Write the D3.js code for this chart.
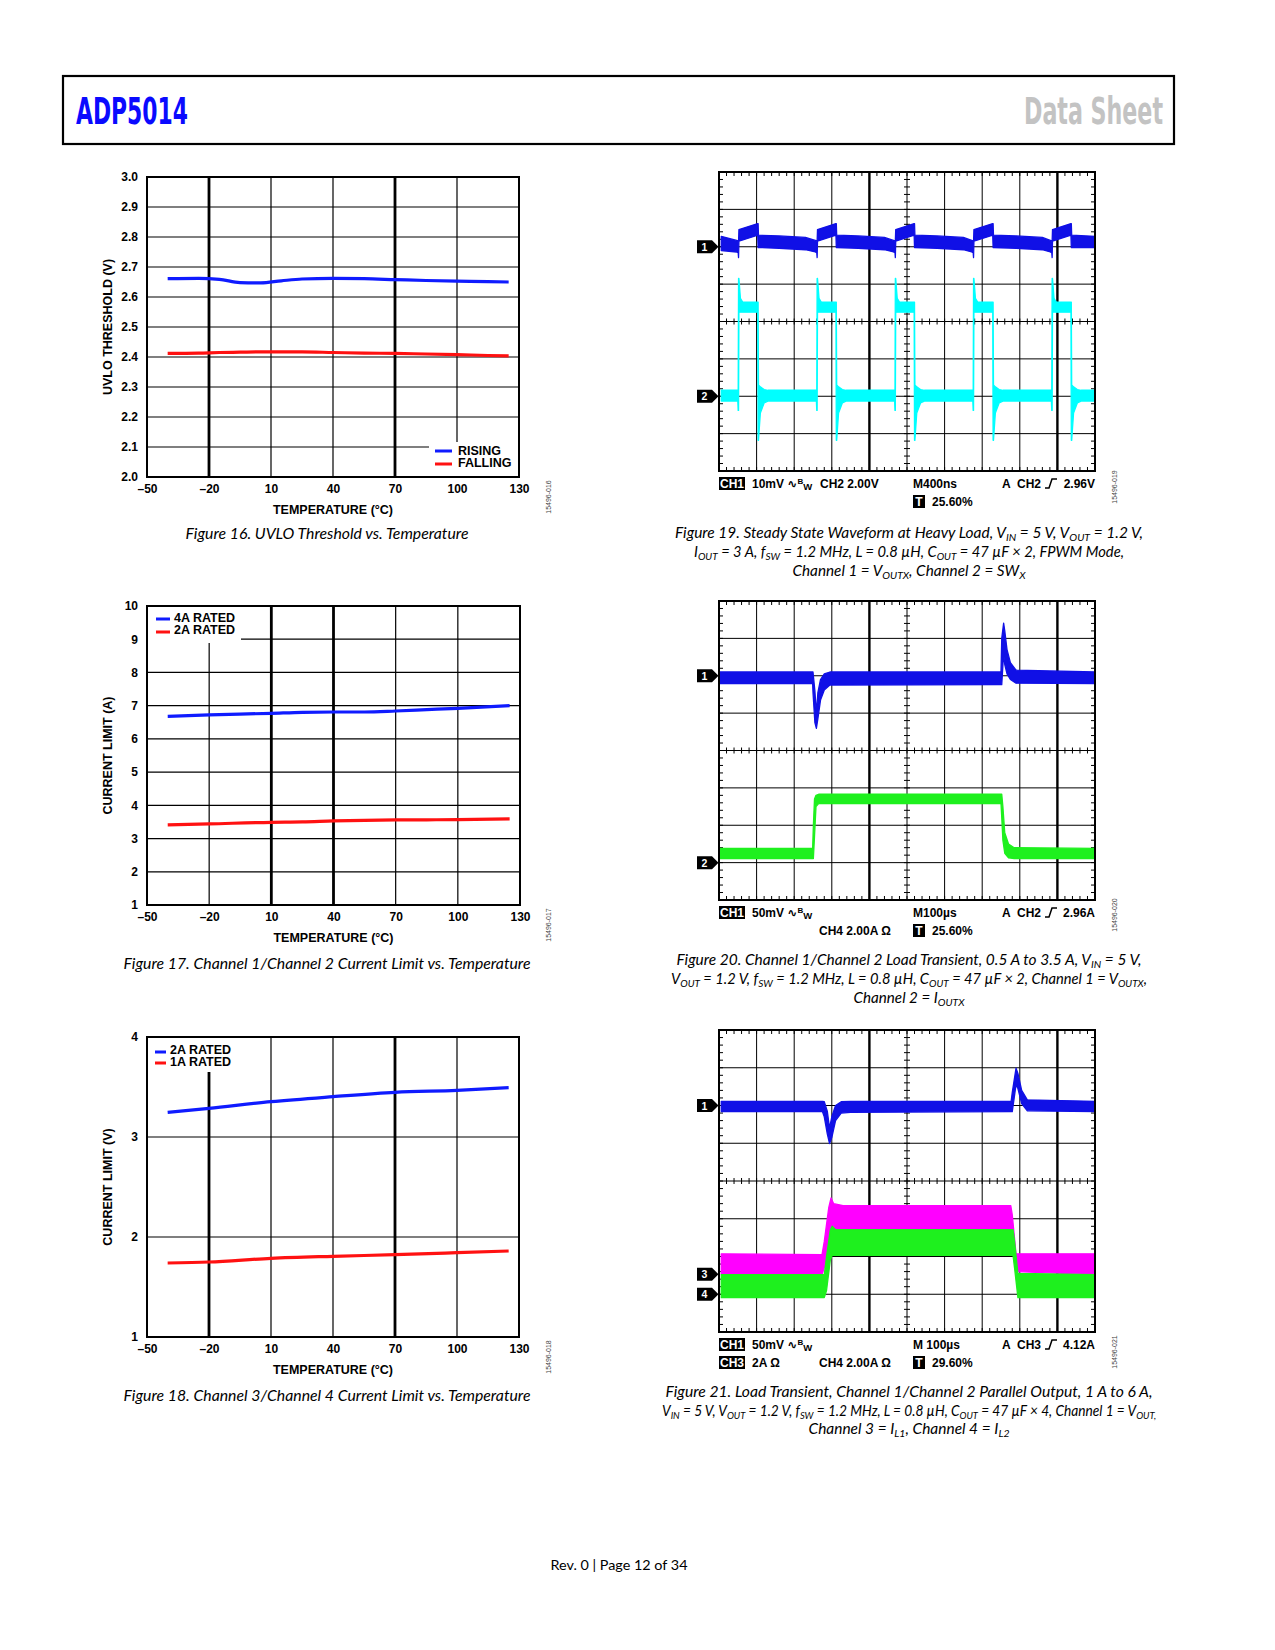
<!DOCTYPE html>
<html><head><meta charset="utf-8">
<script src="https://cdn.jsdelivr.net/npm/d3@7"></script>
<style>
body{margin:0;background:#fff;}
svg{display:block;}
</style></head><body>
<svg id="page" width="1275" height="1650"></svg>
<script>
// ================= DATA =================
const tempTicks = [-50, -20, 10, 40, 70, 100, 130];

// Figure 16 – UVLO threshold
const uvloTemps   = [-40, -25, -15, -5, 5, 15, 25, 40, 55, 70, 85, 100, 115, 125];
const uvloRising  = [2.661, 2.662, 2.659, 2.648, 2.647, 2.654, 2.660, 2.662, 2.661, 2.658, 2.655, 2.653, 2.651, 2.650];
const uvloFalling = [2.412, 2.413, 2.415, 2.416, 2.417, 2.417, 2.417, 2.415, 2.413, 2.412, 2.410, 2.408, 2.405, 2.404];
const uvloTicks   = [2.0, 2.1, 2.2, 2.3, 2.4, 2.5, 2.6, 2.7, 2.8, 2.9, 3.0];

// Figure 17 – Channel 1/2 current limit
const ch12Temps   = [-40, -20, 10, 25, 40, 55, 70, 85, 100, 125];
const ch12Rated4A = [6.68, 6.72, 6.77, 6.80, 6.81, 6.81, 6.84, 6.88, 6.92, 7.00];
const ch12Rated2A = [3.41, 3.44, 3.49, 3.50, 3.53, 3.55, 3.56, 3.565, 3.57, 3.59];
const ch12Ticks   = [1, 2, 3, 4, 5, 6, 7, 8, 9, 10];

// Figure 18 – Channel 3/4 current limit
const ch34Temps   = [-40, -20, 10, 40, 70, 100, 125];
const ch34Rated2A = [3.247, 3.287, 3.353, 3.403, 3.447, 3.467, 3.493];
const ch34Rated1A = [1.740, 1.750, 1.787, 1.807, 1.823, 1.843, 1.860];
const ch34Ticks   = [1, 2, 3, 4];

// Scope traces: [time (div), band low (div), band high (div)]
const fig19Ch1 = [
 [0.06,1.90,2.28],
 [0.47,1.86,2.17],[0.51,1.84,2.15],[0.52,1.71,2.15],[0.53,2.15,2.46],[1.03,2.31,2.62],[1.04,1.98,2.62],[1.05,1.98,2.31],[1.6,1.96,2.29],[2.3,1.92,2.25],
 [2.56,1.86,2.17],[2.60,1.84,2.15],[2.61,1.71,2.15],[2.62,2.15,2.46],[3.11,2.31,2.62],[3.12,1.98,2.62],[3.13,1.98,2.31],[3.7,1.96,2.29],[4.4,1.92,2.25],
 [4.64,1.86,2.17],[4.68,1.84,2.15],[4.69,1.71,2.15],[4.70,2.15,2.46],[5.19,2.31,2.62],[5.20,1.98,2.62],[5.21,1.98,2.31],[5.8,1.96,2.29],[6.5,1.92,2.25],
 [6.72,1.86,2.17],[6.76,1.84,2.15],[6.77,1.71,2.15],[6.78,2.15,2.46],[7.28,2.31,2.62],[7.29,1.98,2.62],[7.30,1.98,2.31],[7.9,1.96,2.29],[8.6,1.92,2.25],
 [8.81,1.86,2.17],[8.85,1.84,2.15],[8.86,1.71,2.15],[8.87,2.15,2.46],[9.36,2.31,2.62],[9.37,1.98,2.62],[9.38,1.98,2.31],[10.0,1.98,2.28]
];
const fig19Ch2 = [
 [0.06,-2.13,-1.84],[0.50,-2.13,-1.84],[0.51,-2.38,-1.84],[0.52,-2.38,1.15],[0.53,0.25,1.15],[0.57,0.25,0.62],[0.63,0.25,0.52],[1.03,0.25,0.52],[1.04,-3.18,0.52],[1.05,-3.18,-1.70],[1.10,-2.45,-1.75],[1.20,-2.18,-1.82],[1.30,-2.13,-1.84],
 [2.59,-2.13,-1.84],[2.60,-2.38,-1.84],[2.61,-2.38,1.15],[2.62,0.25,1.15],[2.66,0.25,0.62],[2.72,0.25,0.52],[3.11,0.25,0.52],[3.12,-3.18,0.52],[3.13,-3.18,-1.70],[3.18,-2.45,-1.75],[3.28,-2.18,-1.82],[3.38,-2.13,-1.84],
 [4.67,-2.13,-1.84],[4.68,-2.38,-1.84],[4.69,-2.38,1.15],[4.70,0.25,1.15],[4.74,0.25,0.62],[4.80,0.25,0.52],[5.19,0.25,0.52],[5.20,-3.18,0.52],[5.21,-3.18,-1.70],[5.26,-2.45,-1.75],[5.36,-2.18,-1.82],[5.46,-2.13,-1.84],
 [6.75,-2.13,-1.84],[6.76,-2.38,-1.84],[6.77,-2.38,1.15],[6.78,0.25,1.15],[6.82,0.25,0.62],[6.88,0.25,0.52],[7.28,0.25,0.52],[7.29,-3.18,0.52],[7.30,-3.18,-1.70],[7.35,-2.45,-1.75],[7.45,-2.18,-1.82],[7.55,-2.13,-1.84],
 [8.84,-2.13,-1.84],[8.85,-2.38,-1.84],[8.86,-2.38,1.15],[8.87,0.25,1.15],[8.91,0.25,0.62],[8.97,0.25,0.52],[9.36,0.25,0.52],[9.37,-3.18,0.52],[9.38,-3.18,-1.70],[9.43,-2.45,-1.75],[9.53,-2.18,-1.82],[9.63,-2.13,-1.84],[10.0,-2.13,-1.84]
];
const fig20Ch1 = [
 [0.0,1.79,2.10],[2.49,1.79,2.10],[2.50,1.55,2.10],[2.55,0.75,1.60],[2.59,0.59,1.00],[2.63,0.85,1.55],[2.70,1.35,1.90],[2.80,1.62,2.05],[2.95,1.75,2.10],
 [7.50,1.76,2.10],[7.52,1.76,3.00],[7.57,2.60,3.41],[7.60,2.30,3.20],[7.66,2.05,2.70],[7.75,1.90,2.35],[7.90,1.80,2.15],[10.0,1.79,2.10]
];
const fig20Ch2 = [
 [0.0,-2.89,-2.62],[2.49,-2.89,-2.62],[2.51,-2.89,-2.00],[2.54,-2.30,-1.30],[2.58,-1.50,-1.20],[2.65,-1.42,-1.17],
 [7.50,-1.42,-1.17],[7.52,-1.80,-1.17],[7.55,-2.40,-1.50],[7.60,-2.75,-2.20],[7.70,-2.87,-2.50],[7.85,-2.89,-2.60],[10.0,-2.89,-2.62]
];
const fig21Ch1 = [
 [0.06,1.84,2.11],[2.75,1.84,2.11],[2.80,1.70,2.10],[2.88,1.25,1.85],[2.94,0.99,1.40],[3.00,1.15,1.70],[3.10,1.60,2.00],[3.25,1.80,2.10],[3.50,1.82,2.11],
 [7.77,1.84,2.11],[7.80,1.84,2.35],[7.90,2.55,2.99],[7.95,2.45,2.85],[8.05,2.05,2.40],[8.20,1.86,2.15],[10.0,1.84,2.11]
];
const fig21Ch3 = [
 [0.06,-2.48,-1.93],[2.74,-2.48,-1.95],[2.80,-2.30,-1.60],[2.92,-1.60,-0.70],[2.98,-1.35,-0.45],[3.05,-1.37,-0.60],[3.30,-1.37,-0.65],
 [7.76,-1.37,-0.65],[7.80,-1.55,-0.90],[7.90,-2.40,-1.93],[10.0,-2.48,-1.93]
];
const fig21Ch4 = [
 [0.06,-3.09,-2.48],[2.80,-3.09,-2.48],[2.86,-2.90,-2.00],[2.96,-2.10,-1.30],[3.01,-1.97,-1.20],[3.10,-1.97,-1.29],
 [7.82,-1.97,-1.29],[7.86,-2.30,-1.60],[7.95,-3.09,-2.45],[10.0,-3.09,-2.48]
];

// ================= DRAWING =================
const svg = d3.select("#page");
const SANS = "'Liberation Sans', Arial, sans-serif";
const CAP = "Lato, 'Noto Sans', sans-serif";

// Header
svg.append("rect").attr("x",63).attr("y",76).attr("width",1111).attr("height",68)
  .attr("fill","none").attr("stroke","#000").attr("stroke-width",2.2);
svg.append("text").attr("x",76).attr("y",124).text("ADP5014")
  .attr("font-family","'Liberation Sans Narrow', 'DejaVu Sans Condensed', sans-serif")
  .attr("font-weight","bold").attr("font-size",37).attr("fill","#0a0aff")
  .attr("textLength",112).attr("lengthAdjust","spacingAndGlyphs");
svg.append("text").attr("x",1024).attr("y",124).text("Data Sheet")
  .attr("font-family","'Liberation Sans Narrow', 'DejaVu Sans Condensed', sans-serif")
  .attr("font-weight","bold").attr("font-size",37).attr("fill","#c3c3c3")
  .attr("textLength",139).attr("lengthAdjust","spacingAndGlyphs");

// Footer
svg.append("text").attr("x",619).attr("y",1570).attr("text-anchor","middle")
  .attr("font-family",CAP).attr("font-size",13.5).text("Rev. 0 | Page 12 of 34")
  .attr("textLength",137).attr("lengthAdjust","spacingAndGlyphs");

function richText(g, x, y, str, size, len) {
  const t = g.append("text").attr("x",x).attr("y",y).attr("text-anchor","middle")
    .attr("font-family",CAP).attr("font-style","italic").attr("font-size",size).attr("fill","#000");
  const parts = str.split(/(_\{[^}]*\})/);
  let shifted = false;
  parts.forEach(p => {
    if (!p) return;
    if (p.startsWith("_{")) {
      t.append("tspan").attr("dy",3).attr("font-size",size*0.68).text(p.slice(2,-1));
      shifted = true;
    } else {
      const ts = t.append("tspan").text(p);
      if (shifted) { ts.attr("dy",-3); shifted = false; }
    }
  });
  if (len) t.attr("textLength",len).attr("lengthAdjust","spacingAndGlyphs");
  return t;
}

function sideId(x, y, str) {
  svg.append("text").attr("transform",`translate(${x},${y}) rotate(-90)`)
    .attr("text-anchor","middle").attr("dominant-baseline","central")
    .attr("font-family",SANS).attr("font-size",7).attr("fill","#444").text(str);
}

function tempChart(o) {
  const g = svg.append("g");
  const x = d3.scaleLinear().domain([-50,130]).range([o.x0,o.x1]);
  const y = d3.scaleLinear().domain(o.yDomain).range([o.y1,o.y0]);
  // vertical grid
  g.selectAll(".vg").data(tempTicks.slice(1,-1)).join("line")
    .attr("x1",d=>x(d)).attr("x2",d=>x(d)).attr("y1",o.y0).attr("y2",o.y1)
    .attr("stroke","#000").attr("stroke-width",d=>o.thick.includes(d)?2.8:1.2);
  // horizontal grid
  g.selectAll(".hg").data(o.yTicks.slice(1,-1)).join("line")
    .attr("x1",o.x0).attr("x2",o.x1).attr("y1",d=>y(d)).attr("y2",d=>y(d))
    .attr("stroke","#000").attr("stroke-width",1.2);
  // legend background
  g.append("rect").attr("x",o.leg.bx).attr("y",o.leg.by).attr("width",o.leg.bw).attr("height",o.leg.bh).attr("fill","#fff");
  // border
  g.append("rect").attr("x",o.x0).attr("y",o.y0).attr("width",o.x1-o.x0).attr("height",o.y1-o.y0)
    .attr("fill","none").attr("stroke","#000").attr("stroke-width",2);
  // axes labels
  const ax = g.append("g").attr("transform",`translate(0,${o.y1})`)
    .call(d3.axisBottom(x).tickValues(tempTicks).tickSize(0).tickPadding(7)
      .tickFormat(d => d < 0 ? "\u2013" + Math.abs(d) : d));
  ax.select(".domain").remove();
  ax.attr("font-family",SANS).attr("font-size",12).attr("font-weight","bold");
  const ay = g.append("g").attr("transform",`translate(${o.x0},0)`)
    .call(d3.axisLeft(y).tickValues(o.yTicks).tickSize(0).tickPadding(9).tickFormat(o.fmt));
  ay.select(".domain").remove();
  ay.attr("font-family",SANS).attr("font-size",12).attr("font-weight","bold");
  // series
  const line = d3.line().curve(d3.curveMonotoneX).x(d=>x(d[0])).y(d=>y(d[1]));
  o.series.forEach(s => {
    g.append("path").attr("d",line(o.temps.map((t,i)=>[t,s.values[i]])))
      .attr("fill","none").attr("stroke",s.color).attr("stroke-width",3.2).attr("stroke-linecap","butt");
  });
  // legend
  o.series.forEach((s,i) => {
    g.append("line").attr("x1",o.leg.lx0).attr("x2",o.leg.lx1).attr("y1",o.leg.ly[i]).attr("y2",o.leg.ly[i])
      .attr("stroke",s.color).attr("stroke-width",3);
    g.append("text").attr("x",o.leg.tx).attr("y",o.leg.ty[i]).attr("dominant-baseline","central")
      .attr("font-family",SANS).attr("font-size",12.5).attr("font-weight","bold").text(s.name);
  });
  // titles
  g.append("text").attr("x",(o.x0+o.x1)/2).attr("y",o.y1+33).attr("text-anchor","middle").attr("dominant-baseline","central")
    .attr("font-family",SANS).attr("font-size",12.5).attr("font-weight","bold").text("TEMPERATURE (°C)");
  g.append("text").attr("transform",`translate(108,${(o.y0+o.y1)/2}) rotate(-90)`).attr("text-anchor","middle")
    .attr("dominant-baseline","central").attr("font-family",SANS).attr("font-size",12.5).attr("font-weight","bold").text(o.yTitle);
  richText(svg, 327, o.capY + 5, o.caption, 14.5, o.capLen);
  sideId(548, o.idY, o.id);
}

tempChart({
  x0:147, x1:519, y0:177, y1:477, yDomain:[2,3], yTicks:uvloTicks, fmt:d3.format(".1f"), thick:[-20,70],
  temps:uvloTemps,
  series:[{name:"RISING",color:"#0f1bff",values:uvloRising},{name:"FALLING",color:"#ff1111",values:uvloFalling}],
  leg:{bx:429,by:442,bw:89,bh:34,lx0:435,lx1:452,ly:[451,464],tx:458,ty:[451,463]},
  yTitle:"UVLO THRESHOLD (V)", caption:"Figure 16. UVLO Threshold vs. Temperature", capY:534, capLen:283,
  id:"15496-016", idY:497
});
tempChart({
  x0:147, x1:520, y0:606, y1:905, yDomain:[1,10], yTicks:ch12Ticks, fmt:d3.format("d"), thick:[10,40],
  temps:ch12Temps,
  series:[{name:"4A RATED",color:"#0f1bff",values:ch12Rated4A},{name:"2A RATED",color:"#ff1111",values:ch12Rated2A}],
  leg:{bx:148,by:607,bw:93,bh:36,lx0:156,lx1:170,ly:[619,632],tx:174,ty:[618,630]},
  yTitle:"CURRENT LIMIT (A)", caption:"Figure 17. Channel 1/Channel 2 Current Limit vs. Temperature", capY:964, capLen:407,
  id:"15496-017", idY:925
});
tempChart({
  x0:147, x1:519, y0:1037, y1:1337, yDomain:[1,4], yTicks:ch34Ticks, fmt:d3.format("d"), thick:[-20,70],
  temps:ch34Temps,
  series:[{name:"2A RATED",color:"#0f1bff",values:ch34Rated2A},{name:"1A RATED",color:"#ff1111",values:ch34Rated1A}],
  leg:{bx:148,by:1038,bw:87,bh:34,lx0:155,lx1:166,ly:[1052,1063],tx:170,ty:[1050,1062]},
  yTitle:"CURRENT LIMIT (V)", caption:"Figure 18. Channel 3/Channel 4 Current Limit vs. Temperature", capY:1396, capLen:407,
  id:"15496-018", idY:1357
});

// ---------- scope screens ----------
function scope(o) {
  const g = svg.append("g");
  const L = 719, R = 1095;
  const x = d3.scaleLinear().domain([0,10]).range([L,R]);
  const y = d3.scaleLinear().domain([-4,4]).range([o.bottom,o.top]);
  const cx = x(5), cy = y(0);
  // grid
  g.selectAll(".vg").data(d3.range(1,10)).join("line")
    .attr("x1",d=>x(d)).attr("x2",d=>x(d)).attr("y1",o.top).attr("y2",o.bottom)
    .attr("stroke","#000").attr("stroke-width",d=>(d===4||d===9)?2.4:1);
  g.selectAll(".hg").data(d3.range(-3,4)).join("line")
    .attr("x1",L).attr("x2",R).attr("y1",d=>y(d)).attr("y2",d=>y(d))
    .attr("stroke","#000").attr("stroke-width",1);
  // minor ticks
  const tx = d3.range(0,10.01,0.2), ty = d3.range(-4,4.01,0.2);
  const tk = g.append("g").attr("stroke","#000").attr("stroke-width",1);
  tx.forEach(t => {
    const xx = x(t);
    tk.append("line").attr("x1",xx).attr("x2",xx).attr("y1",o.top).attr("y2",o.top+4);
    tk.append("line").attr("x1",xx).attr("x2",xx).attr("y1",o.bottom-4).attr("y2",o.bottom);
    tk.append("line").attr("x1",xx).attr("x2",xx).attr("y1",cy-3).attr("y2",cy+3);
  });
  ty.forEach(t => {
    const yy = y(t);
    tk.append("line").attr("x1",L).attr("x2",L+4).attr("y1",yy).attr("y2",yy);
    tk.append("line").attr("x1",R-4).attr("x2",R).attr("y1",yy).attr("y2",yy);
    tk.append("line").attr("x1",cx-3).attr("x2",cx+3).attr("y1",yy).attr("y2",yy);
  });
  // traces
  const area = d3.area().x(d=>x(d[0])).y0(d=>y(d[1])).y1(d=>y(d[2]));
  o.traces.forEach(tr => {
    g.append("path").attr("d",area(tr.data)).attr("fill",tr.color)
      .attr("stroke",tr.color).attr("stroke-width",1.3).attr("stroke-linejoin","round");
  });
  // border
  g.append("rect").attr("x",L).attr("y",o.top).attr("width",R-L).attr("height",o.bottom-o.top)
    .attr("fill","none").attr("stroke","#000").attr("stroke-width",2);
  // channel markers
  o.markers.forEach(m => {
    const yy = y(m.level);
    g.append("path").attr("d",`M697,${yy-6.5}L712,${yy-6.5}L718.5,${yy}L712,${yy+6.5}L697,${yy+6.5}Z`).attr("fill","#000");
    g.append("text").attr("x",704.5).attr("y",yy).attr("text-anchor","middle").attr("dominant-baseline","central")
      .attr("font-family",SANS).attr("font-size",10.5).attr("font-weight","bold").attr("fill","#fff").text(m.label);
  });
  // annotations
  const b1 = o.bottom + 17, b2 = o.bottom + 35;
  const T = (xx, yy, s, anchor) => g.append("text").attr("x",xx).attr("y",yy).attr("text-anchor",anchor||"start")
      .attr("font-family",SANS).attr("font-size",12).attr("font-weight","bold").attr("fill","#000").text(s);
  const inv = (xx, yy, w, s) => {
    g.append("rect").attr("x",xx).attr("y",yy-11).attr("width",w).attr("height",13).attr("fill","#000");
    g.append("text").attr("x",xx+w/2).attr("y",yy).attr("text-anchor","middle")
      .attr("font-family",SANS).attr("font-size",12).attr("font-weight","bold").attr("fill","#fff").text(s);
  };
  const bw = (xx, yy, volts) => {
    const t = g.append("text").attr("x",xx).attr("y",yy).attr("font-family",SANS).attr("font-size",12)
      .attr("font-weight","bold").attr("fill","#000");
    t.append("tspan").text(volts + " ");
    t.append("tspan").attr("font-family","'DejaVu Sans', sans-serif").attr("font-size",12).text("\u223F");
    t.append("tspan").attr("font-size",8).attr("dy",-4).text("B");
    t.append("tspan").attr("font-size",9.5).attr("dy",6).text("W");
  };
  const trig = (xx, yy) => {
    g.append("path").attr("d",`M${xx},${yy}L${xx+4},${yy}L${xx+7},${yy-9}L${xx+12},${yy-9}`)
      .attr("fill","none").attr("stroke","#000").attr("stroke-width",1.5);
  };
  inv(719, b1, 26, "CH1");
  bw(752, b1, o.ch1);
  if (o.ch2txt) T(820, b1, o.ch2txt);
  T(913, b1, o.time);
  T(1002, b1, "A");
  T(1017, b1, o.trigCh);
  trig(1045, b1);
  T(1095, b1, o.trigLvl, "end");
  if (o.ch3) { inv(719, b2, 26, "CH3"); T(752, b2, o.ch3); }
  if (o.ch4txt) T(819, b2, o.ch4txt);
  inv(913, b2, 12, "T");
  T(932, b2, o.tpos);
  // caption
  o.caption.forEach((c,i) => richText(svg, 909, o.capY[i] + 5, c, 14.5, o.capLen[i]));
  sideId(1114, o.idY, o.id);
}

scope({
  top:172, bottom:471,
  traces:[{color:"#1010e6",data:fig19Ch1},{color:"#00ffff",data:fig19Ch2}],
  markers:[{label:"1",level:2},{label:"2",level:-2}],
  ch1:"10mV", ch2txt:"CH2 2.00V", time:"M400ns", trigCh:"CH2", trigLvl:"2.96V", tpos:"25.60%",
  caption:["Figure 19. Steady State Waveform at Heavy Load, V_{IN} = 5 V, V_{OUT} = 1.2 V,",
           "I_{OUT} = 3 A, f_{SW} = 1.2 MHz, L = 0.8 µH, C_{OUT} = 47 µF × 2, FPWM Mode,",
           "Channel 1 = V_{OUTX}, Channel 2 = SW_{X}"],
  capY:[533,552,571], capLen:[468,430,233], id:"15496-019", idY:487
});
scope({
  top:601, bottom:900,
  traces:[{color:"#1010e6",data:fig20Ch1},{color:"#1ef01e",data:fig20Ch2}],
  markers:[{label:"1",level:2},{label:"2",level:-3}],
  ch1:"50mV", time:"M100µs", trigCh:"CH2", trigLvl:"2.96A", ch4txt:"CH4 2.00A \u03A9", tpos:"25.60%",
  caption:["Figure 20. Channel 1/Channel 2 Load Transient, 0.5 A to 3.5 A, V_{IN} = 5 V,",
           "V_{OUT} = 1.2 V, f_{SW} = 1.2 MHz, L = 0.8 µH, C_{OUT} = 47 µF × 2, Channel 1 = V_{OUTX},",
           "Channel 2 = I_{OUTX}"],
  capY:[960,979,998], capLen:[465,476,111], id:"15496-020", idY:915
});
scope({
  top:1030, bottom:1332,
  traces:[{color:"#1010e6",data:fig21Ch1},{color:"#ff00ff",data:fig21Ch3},{color:"#1ef01e",data:fig21Ch4}],
  markers:[{label:"1",level:2},{label:"3",level:-2.47},{label:"4",level:-3}],
  ch1:"50mV", time:"M 100µs", trigCh:"CH3", trigLvl:"4.12A", ch3:"2A \u03A9", ch4txt:"CH4 2.00A  \u03A9", tpos:"29.60%",
  caption:["Figure 21. Load Transient, Channel 1/Channel 2 Parallel Output, 1 A to 6 A,",
           "V_{IN} = 5 V, V_{OUT} = 1.2 V, f_{SW} = 1.2 MHz, L = 0.8 µH, C_{OUT} = 47 µF × 4, Channel 1 = V_{OUT,}",
           "Channel 3 = I_{L1}, Channel 4 = I_{L2}"],
  capY:[1392,1411,1429], capLen:[487,494,201], id:"15496-021", idY:1352
});
</script>
</body></html>
